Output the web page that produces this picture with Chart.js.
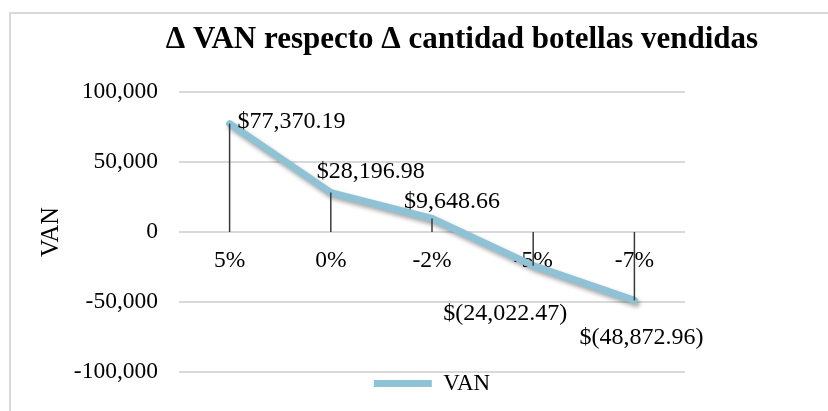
<!DOCTYPE html>
<html>
<head>
<meta charset="utf-8">
<script src="https://cdn.jsdelivr.net/npm/chart.js@4.4.0/dist/chart.umd.min.js"></script>
<style>
  body { margin: 0; background: #fff; overflow: hidden; }
  #marco { position: absolute; left: 9px; top: 12px; width: 1000px; height: 1000px; border: 2px solid #d9d9d9; }
  #grafico { position: absolute; left: 0; top: 0; }
</style>
</head>
<body>
<div id="marco"></div>
<canvas id="grafico" width="828" height="411"></canvas>
<script>
// Variación en la cantidad de botellas vendidas
const variaciones = ['5%', '0%', '-2%', '-5%', '-7%'];
// VAN obtenido en cada escenario
const valoresVAN = [77370.19, 28196.98, 9648.66, -24022.47, -48872.96];
// Marcas del eje vertical
const marcasEjeY = [100000, 50000, 0, -50000, -100000];

const fuente = 'Liberation Serif';
const colorLinea = '#8FC2D4';

// Desplazamiento de cada etiqueta respecto a su punto
const posEtiquetas = [
    { dx: 8, dy: -2, align: 'left' },
    { dx: 40, dy: -21, align: 'center' },
    { dx: 20, dy: -17, align: 'center' },
    { dx: -28, dy: 48, align: 'center' },
    { dx: 7, dy: 37, align: 'center' },
];

// Formato contable: $77,370.19 y $(24,022.47)
function formatoMoneda(v) {
    const txt = Math.abs(v).toLocaleString('en-US', { minimumFractionDigits: 2, maximumFractionDigits: 2 });
    return v < 0 ? '$(' + txt + ')' : '$' + txt;
}

// Título del gráfico
const pluginTitulo = {
    id: 'titulo',
    afterDraw(chart) {
        const ctx = chart.ctx;
        ctx.save();
        ctx.font = 'bold 31px "' + fuente + '"';
        ctx.fillStyle = '#000';
        ctx.textAlign = 'center';
        ctx.textBaseline = 'middle';
        ctx.fillText('Δ VAN respecto Δ cantidad botellas vendidas', 462, 40);
        ctx.restore();
    }
};

// Sombra suave debajo de la línea
const pluginSombra = {
    id: 'sombra',
    beforeDatasetDraw(chart) {
        const ctx = chart.ctx;
        ctx.save();
        ctx.shadowColor = 'rgba(0,0,0,0.35)';
        ctx.shadowBlur = 4;
        ctx.shadowOffsetX = 2;
        ctx.shadowOffsetY = 3;
    },
    afterDatasetDraw(chart) {
        chart.ctx.restore();
    }
};

// Líneas de caída hasta el cero y etiquetas de valor
const pluginCaida = {
    id: 'caida',
    afterDatasetsDraw(chart) {
        const ctx = chart.ctx;
        const y0 = chart.scales.y.getPixelForValue(0);
        const puntos = chart.getDatasetMeta(0).data;
        ctx.save();
        ctx.strokeStyle = '#3a3a3a';
        ctx.lineWidth = 1.5;
        puntos.forEach(p => {
            ctx.beginPath();
            ctx.moveTo(p.x, y0);
            ctx.lineTo(p.x, p.y);
            ctx.stroke();
        });
        ctx.font = '24px "' + fuente + '"';
        ctx.fillStyle = '#000';
        ctx.textBaseline = 'middle';
        puntos.forEach((p, i) => {
            const pos = posEtiquetas[i];
            ctx.textAlign = pos.align;
            ctx.fillText(formatoMoneda(valoresVAN[i]), p.x + pos.dx, p.y + pos.dy);
        });
        ctx.restore();
    }
};

const ctx = document.getElementById('grafico').getContext('2d');

new Chart(ctx, {
    type: 'line',
    data: {
        labels: variaciones,
        datasets: [{
            label: 'VAN',
            data: valoresVAN,
            borderColor: colorLinea,
            backgroundColor: colorLinea,
            borderWidth: 7,
            borderCapStyle: 'round',
            borderJoinStyle: 'round',
            pointRadius: 0,
            tension: 0,
        }],
    },
    options: {
        responsive: false,
        animation: false,
        layout: { padding: { top: 92, right: 143, bottom: 6, left: 0 } },
        scales: {
            x: {
                position: { y: 0 },
                offset: true,
                grid: { display: false, drawTicks: false },
                border: { display: false },
                ticks: { padding: 15, color: '#000', font: { family: fuente, size: 23.5 } },
            },
            y: {
                min: -100000,
                max: 100000,
                afterFit: scale => { scale.width = 179; },
                afterBuildTicks: scale => { scale.ticks = marcasEjeY.map(v => ({ value: v })); },
                grid: { color: '#D9D9D9', lineWidth: 2, drawTicks: false },
                border: { display: false },
                ticks: {
                    padding: 21,
                    color: '#000',
                    font: { family: fuente, size: 23.5 },
                    callback: v => v.toLocaleString('en-US'),
                },
                title: {
                    display: true,
                    text: 'VAN',
                    color: '#000',
                    font: { family: fuente, size: 24.5 },
                    padding: { top: 37, bottom: 0 },
                },
            },
        },
        plugins: {
            legend: {
                position: 'bottom',
                fullSize: false,
                labels: {
                    usePointStyle: true,
                    pointStyle: 'line',
                    pointStyleWidth: 58,
                    padding: 0,
                    color: '#000',
                    font: { family: fuente, size: 23, lineHeight: 1 },
                },
            },
            tooltip: { enabled: false },
        },
    },
    plugins: [pluginTitulo, pluginSombra, pluginCaida],
});
</script>
</body>
</html>
